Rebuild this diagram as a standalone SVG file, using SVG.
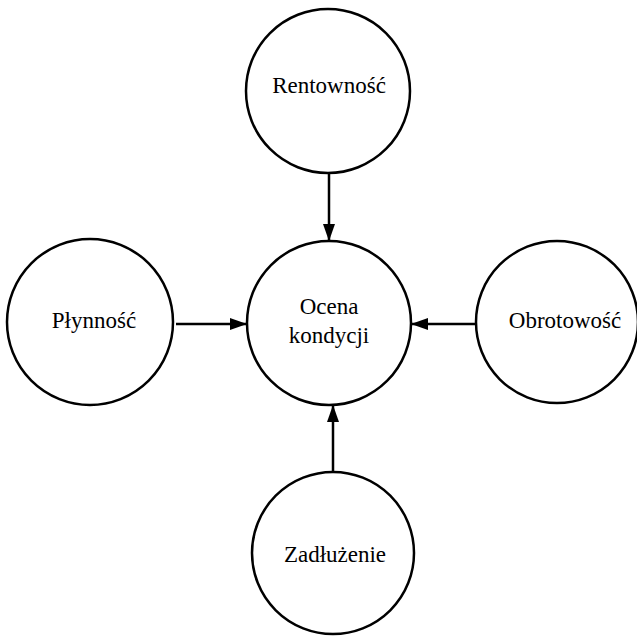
<svg xmlns="http://www.w3.org/2000/svg" width="637" height="637" viewBox="0 0 637 637">
<defs>
<style>
.node{fill:#fff;stroke:#000;stroke-width:2.5}
.lbl{font-family:"Liberation Serif","Times New Roman",serif;font-size:23px;fill:#000;text-anchor:middle}
.edge{stroke:#000;stroke-width:2.5;fill:none}
</style>
<marker id="ah" markerUnits="userSpaceOnUse" markerWidth="18" markerHeight="14" refX="17" refY="7" orient="auto">
<path d="M0,1 L17,7 L0,13 Z" fill="#000"/>
</marker>
</defs>
<rect width="637" height="637" fill="#fff"/>
<g id="connectors">
<line class="edge" x1="329" y1="173" x2="329" y2="241" marker-end="url(#ah)"/>
<line class="edge" x1="176" y1="324" x2="247" y2="324" marker-end="url(#ah)"/>
<line class="edge" x1="477" y1="324" x2="411" y2="324" marker-end="url(#ah)"/>
<line class="edge" x1="333" y1="472" x2="333" y2="405" marker-end="url(#ah)"/>
</g>
<g id="rentownosc">
<circle class="node" cx="328" cy="91" r="82"/>
<text class="lbl" x="329" y="93">Rentowność</text>
</g>
<g id="ocena">
<circle class="node" cx="329" cy="323" r="82"/>
<text class="lbl" x="329" y="314">Ocena</text>
<text class="lbl" x="329" y="343">kondycji</text>
</g>
<g id="plynnosc">
<circle class="node" cx="90" cy="322" r="83"/>
<text class="lbl" x="94" y="328">Płynność</text>
</g>
<g id="obrotowosc">
<circle class="node" cx="557" cy="322" r="81"/>
<text class="lbl" x="565" y="328">Obrotowość</text>
</g>
<g id="zadluzenie">
<circle class="node" cx="333" cy="553" r="81"/>
<text class="lbl" x="335" y="562">Zadłużenie</text>
</g>
</svg>
